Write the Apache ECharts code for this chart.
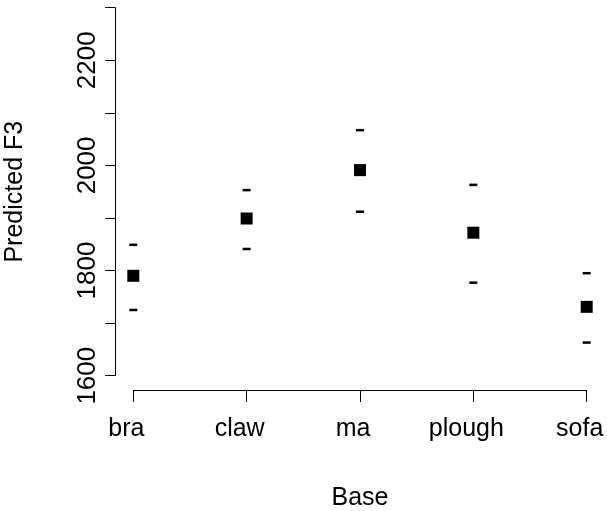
<!DOCTYPE html>
<html>
<head>
<meta charset="utf-8">
<script src="https://cdn.jsdelivr.net/npm/echarts@6/dist/echarts.min.js"></script>
<style>html,body{margin:0;padding:0;background:#fff}#c{width:607px;height:511px}</style>
</head>
<body>
<div id="c"></div>
<script>
var categories = ['bra', 'claw', 'ma', 'plough', 'sofa'];
var predicted = [1790, 1899, 1991, 1872, 1731];
var upper = [1849, 1953, 2067, 1963, 1795];
var lower = [1725, 1841, 1912, 1777, 1663];
var yTickLabels = [1600, 1800, 2000, 2200];

var FONT = '"Liberation Sans", Arial, sans-serif';
var chart = echarts.init(document.getElementById('c'), null, {renderer: 'canvas'});
chart.setOption({
  animation: false,
  backgroundColor: '#ffffff',
  grid: {left: 133.3, right: 20.3, top: 7.7, bottom: 135.3, containLabel: false, outerBoundsMode: 'none'},
  xAxis: {
    type: 'category',
    data: categories,
    boundaryGap: false,
    offset: 14.3,
    name: 'Base',
    nameLocation: 'middle',
    nameGap: 96,
    nameTextStyle: {fontFamily: FONT, fontSize: 25, color: '#000'},
    axisLine: {show: true, lineStyle: {color: '#000', width: 1}},
    axisTick: {show: true, length: 12, lineStyle: {color: '#000', width: 1}},
    axisLabel: {fontFamily: FONT, fontSize: 25, color: '#000', margin: 27, interval: 0, padding: [0, 14, 0, 0]},
    splitLine: {show: false}
  },
  yAxis: {
    type: 'value',
    min: 1600,
    max: 2300,
    interval: 100,
    offset: 18.3,
    name: 'Predicted F3',
    nameLocation: 'middle',
    nameGap: 87,
    nameTextStyle: {fontFamily: FONT, fontSize: 25, color: '#000'},
    axisLine: {show: true, lineStyle: {color: '#000', width: 1}},
    axisTick: {show: true, length: 10, lineStyle: {color: '#000', width: 1}},
    axisLabel: {
      fontFamily: FONT, fontSize: 26, color: '#000', rotate: 90, margin: 14,
      formatter: function (v) { return yTickLabels.indexOf(v) >= 0 ? String(v) : ''; }
    },
    splitLine: {show: false}
  },
  series: [
    {type: 'scatter', data: predicted, symbol: 'rect', symbolSize: 12, itemStyle: {color: '#000', opacity: 1}},
    {type: 'scatter', data: upper, symbol: 'rect', symbolSize: [8, 2.5], itemStyle: {color: '#000', opacity: 1}},
    {type: 'scatter', data: lower, symbol: 'rect', symbolSize: [8, 2.5], itemStyle: {color: '#000', opacity: 1}}
  ]
});
</script>
</body>
</html>
